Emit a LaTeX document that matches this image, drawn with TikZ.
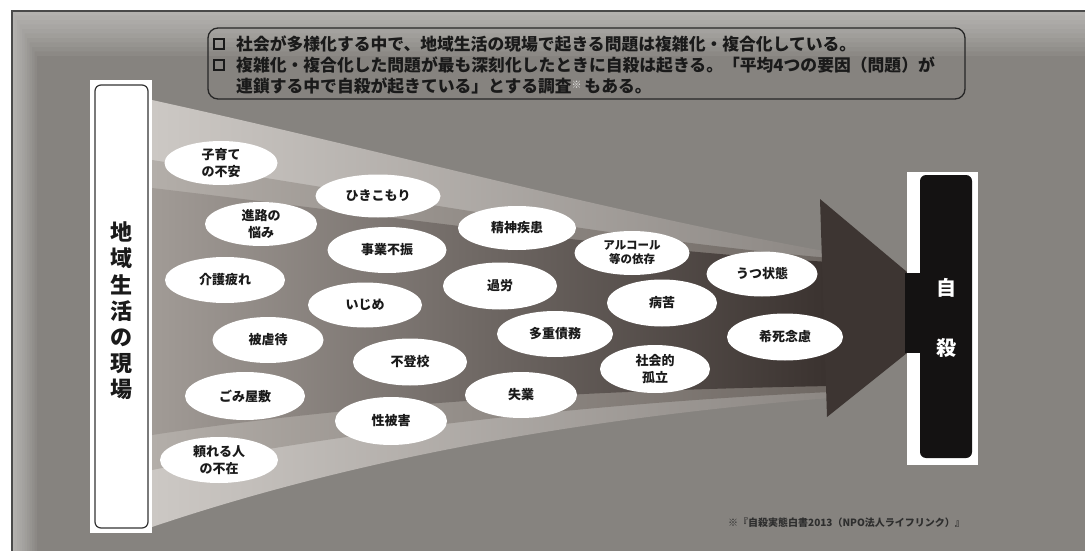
\documentclass[tikz,border=0pt]{standalone}
\usepackage{fontspec}
\newfontfamily\jp{Noto Sans CJK JP}
\usetikzlibrary{shapes.geometric}
\definecolor{bg}{HTML}{86837F}
\definecolor{ink}{HTML}{1A1A1A}
\definecolor{frameline}{HTML}{4A4A4A}
\definecolor{barblack}{HTML}{141212}
\definecolor{arrowdark}{HTML}{3D3532}
\definecolor{outerL}{HTML}{CCC8C4}
\definecolor{outerR}{HTML}{8C8783}
\definecolor{midL}{HTML}{B3AEA9}
\definecolor{midR}{HTML}{6E6762}
\definecolor{bodyL}{HTML}{A19B96}
\definecolor{bodyM}{HTML}{5C534E}
\definecolor{bodyR}{HTML}{3A322F}
\tikzset{
  bub/.style 2 args={ellipse, fill=white, draw=none, inner sep=0pt,
    minimum width=#1, minimum height=#2, align=center, text=ink,
    font=\jp\bfseries\fontsize{13}{17}\selectfont},
  headline/.style={anchor=west, text=ink, inner sep=0pt,
    font=\jp\bfseries\fontsize{16.8}{20}\selectfont},
  boxmark/.style={draw=ink, line width=1.7, minimum size=9.5pt, inner sep=0pt},
}
\begin{document}
\begin{tikzpicture}[x=1pt,y=-1pt]
\useasboundingbox (0,0) rectangle (1085,551);
\fill[white] (0,0) rectangle (1085,551);
% main gray frame with inner glow
\fill[bg] (12,11) rectangle (1095,560);
\foreach \i in {1,...,10}{
  \fill[white, opacity=0.05, even odd rule]
    (12,11) rectangle (1095,560) (12+2.5*\i,11+4.5*\i) rectangle (1095,560);
}
\draw[frameline, line width=1.3] (12,560) -- (12,11) -- (1095,11);
% funnel: outer light band
\shade[left color=outerL, right color=outerR] (152,100) .. controls (380,150) and (620,215) .. (830,252)
  -- (830,398) .. controls (620,415) and (380,450) .. (152,527) -- cycle;
% mid bands
\shade[left color=midL, right color=midR] (152,160) .. controls (380,195) and (620,240) .. (830,258)
  -- (830,392) .. controls (620,402) and (380,425) .. (152,470) -- cycle;
% dark body
\shade[left color=bodyL, middle color=bodyM, right color=bodyR] (152,188) .. controls (380,215) and (620,250) .. (830,262)
  -- (830,386) .. controls (620,390) and (380,400) .. (152,435) -- cycle;
% arrowhead
\fill[arrowdark] (820,199) -- (907,272) -- (907,353) -- (827,417) -- cycle;
% left panel
\fill[white] (90,80) rectangle (152,533);
\draw[black!80, line width=1.2, fill=white, rounded corners=6] (95,85) rectangle (148,528);
\node[text=ink, align=center, inner sep=0pt, font=\jp\bfseries\fontsize{22}{26.2}\selectfont]
  (place) at (121,311) {地\\域\\生\\活\\の\\現\\場};
% right panel
\fill[white] (907,172) rectangle (978,465);
\fill[barblack] (905,273) rectangle (924,353);
\fill[barblack, rounded corners=6] (920,175) rectangle (972,458);
\node[text=white, inner sep=0pt, font=\jp\bfseries\fontsize{20}{24}\selectfont] (ji) at (946,288) {自};
\node[text=white, inner sep=0pt, font=\jp\bfseries\fontsize{20}{24}\selectfont] (satsu) at (946,348) {殺};
% top text box
\draw[black!85, line width=1.3, rounded corners=10] (208,28) rectangle (965,99);
\node[boxmark] (m1) at (219,44) {};
\node[boxmark] (m2) at (219,65) {};
\node[headline] (l1) at (236,44) {社会が多様化する中で、地域生活の現場で起きる問題は複雑化・複合化している。};
\node[headline] (l2) at (236,65) {複雑化・複合化した問題が最も深刻化したときに自殺は起きる。「平均4つの要因（問題）が};
\node[headline] (l3) at (236,86) {連鎖する中で自殺が起きている」とする調査{\color{white!80!bg}\fontsize{10}{10}\selectfont\raisebox{4pt}{※}}\,もある。};
% bubbles
\node[bub={113}{44}] (b1) at (221,163) {子育て\\の不安};
\node[bub={125}{43}] (b2) at (378,196) {ひきこもり};
\node[bub={112}{44}] (b3) at (261,224) {進路の\\悩み};
\node[bub={118}{44}] (b4) at (517,228) {精神疾患};
\node[bub={119}{46}] (b5) at (387,250) {事業不振};
\node[bub={115}{44}, font=\jp\bfseries\fontsize{11.5}{14}\selectfont] (b6) at (632,253) {アルコール\\等の依存};
\node[bub={111}{45}] (b7) at (762,274) {うつ状態};
\node[bub={120}{46}] (b8) at (225,280) {介護疲れ};
\node[bub={114}{47}] (b9) at (500,286) {過労};
\node[bub={114}{45}] (b10) at (365,305) {いじめ};
\node[bub={110}{47}] (b11) at (662,303) {病苦};
\node[bub={111}{46}] (b12) at (268,340) {被虐待};
\node[bub={116}{46}] (b13) at (555,334) {多重債務};
\node[bub={116}{47}] (b14) at (785,337) {希死念慮};
\node[bub={114}{47}] (b15) at (410,362) {不登校};
\node[bub={110}{48}] (b16) at (655,369) {社会的\\孤立};
\node[bub={120}{48}] (b17) at (245,396) {ごみ屋敷};
\node[bub={112}{46}] (b18) at (521,395) {失業};
\node[bub={112}{48}] (b19) at (391,421) {性被害};
\node[bub={118}{46}] (b20) at (219,460) {頼れる人\\の不在};
% footnote
\node[anchor=west, inner sep=0pt, text=black!82, font=\jp\bfseries\fontsize{10}{12}\selectfont] (note) at (728,523) {※『自殺実態白書2013（NPO法人ライフリンク）』};
\end{tikzpicture}
\end{document}
